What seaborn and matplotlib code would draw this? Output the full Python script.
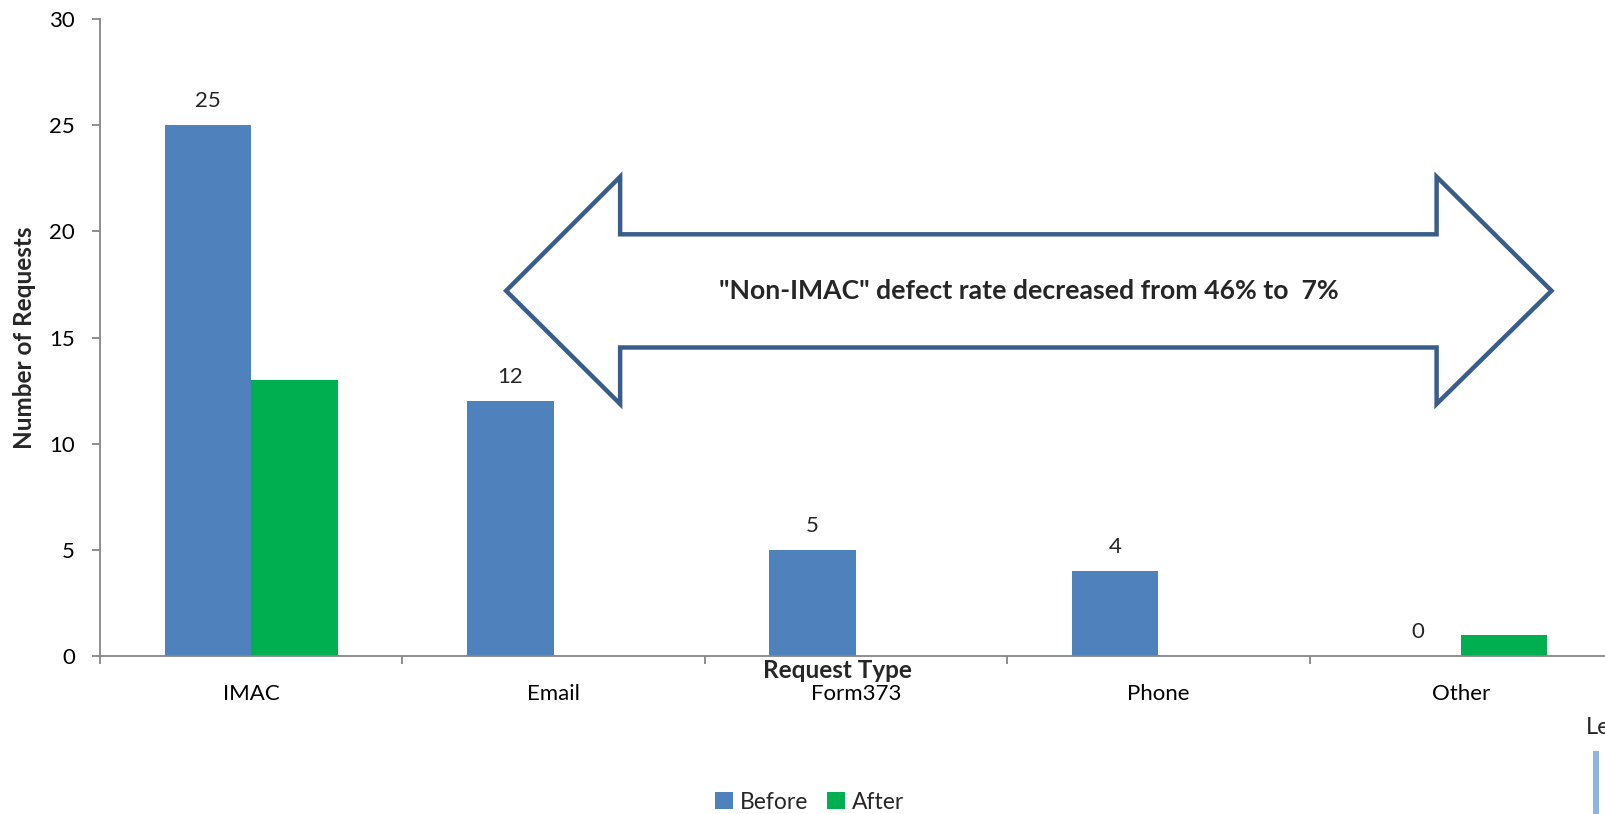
import numpy as np
import pandas as pd
import matplotlib
matplotlib.use("Agg")
import matplotlib.pyplot as plt
from matplotlib.patches import Polygon, Rectangle
import seaborn as sns

# Request counts per type, before and after the change
categories = ["IMAC", "Email", "Form373", "Phone", "Other"]
before = [25, 12, 5, 4, 0]
after = [13, 0, 0, 0, 1]
periods = ["Before", "After"]
colors = {"Before": "#4F81BD", "After": "#00B050"}
y_ticks = [0, 5, 10, 15, 20, 25, 30]

df = pd.DataFrame({
    "Request Type": categories * 2,
    "Requests": before + after,
    "Period": [periods[0]] * len(categories) + [periods[1]] * len(categories),
})

sns.set_style("ticks")
plt.rcParams["font.family"] = ["Lato", "DejaVu Sans"]

fig = plt.figure(figsize=(16.06, 8.14), dpi=100)
ax = fig.add_axes([100 / 1606, 1 - 656 / 814, 1512 / 1606, 637 / 814])

sns.barplot(data=df, x="Request Type", y="Requests", hue="Period",
            order=categories, hue_order=periods, palette=colors,
            saturation=1, width=0.573, errorbar=None, linewidth=0, ax=ax)

ax.set_xlim(-0.5, 4.5)
ax.set_ylim(0, 30)
ax.set_yticks(y_ticks)
ax.set_yticklabels([str(t) for t in y_ticks])

axis_grey = "#868686"
for side in ("top", "right"):
    ax.spines[side].set_visible(False)
for side in ("left", "bottom"):
    ax.spines[side].set_color(axis_grey)
    ax.spines[side].set_linewidth(1.3)

ax.tick_params(axis="y", which="major", length=6, width=1.3, color=axis_grey,
               labelsize=16, pad=12, labelcolor="black")
ax.tick_params(axis="x", which="major", length=0, labelsize=16, pad=20,
               labelcolor="black")
ax.set_xticks(np.arange(-0.5, len(categories), 1), minor=True)
ax.tick_params(axis="x", which="minor", length=6, width=1.3, color=axis_grey)

ax.set_xlabel("Request Type", fontsize=17.5, fontweight="bold")
ax.xaxis.set_label_coords(0.488, -0.004)
ax.set_ylabel("Number of Requests", fontsize=17.5, fontweight="bold")
ax.yaxis.set_label_coords(-0.042, 0.5)

# Value labels on the "Before" bars only
ax.bar_label(ax.containers[0], labels=[str(v) for v in before],
             padding=10, fontsize=16)

# Double-headed callout arrow spanning the non-IMAC categories
arrow_pts = [(0.843, 17.2), (1.22, 22.57), (1.22, 19.86), (3.92, 19.86),
             (3.92, 22.57), (4.30, 17.2), (3.92, 11.87), (3.92, 14.53),
             (1.22, 14.53), (1.22, 11.87)]
ax.add_patch(Polygon(arrow_pts, closed=True, facecolor="white",
                     edgecolor="#385D8A", linewidth=3.2, joinstyle="miter",
                     zorder=5))
ax.text(2.57, 17.2, '"Non-IMAC" defect rate decreased from 46% to  7%',
        ha="center", va="center", fontsize=19.2, fontweight="bold", zorder=6)

# Legend along the bottom edge
handles, labels = ax.get_legend_handles_labels()
ax.get_legend().remove()
fig.legend(handles, labels, loc="center", bbox_to_anchor=(0.504, 0.0147),
           ncol=2, frameon=False, fontsize=16.5, handlelength=0.8,
           handleheight=0.8, handletextpad=0.3, columnspacing=0.8)

# Partially visible legend box at the right edge
fig.text(1586 / 1606, 1 - 727 / 814, "Legend", fontsize=17, ha="left",
         va="center")
fig.add_artist(Rectangle((1593 / 1606, 0), 6 / 1606, 63 / 814,
                         transform=fig.transFigure, facecolor="#8DB4E2",
                         edgecolor="none"))

fig.savefig("out.png", dpi=100)
